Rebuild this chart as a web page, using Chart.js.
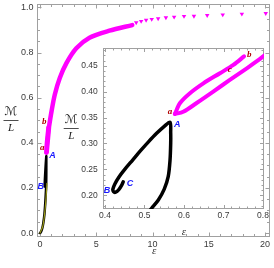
<!DOCTYPE html>
<html>
<head>
<meta charset="utf-8">
<script src="https://cdn.jsdelivr.net/npm/chart.js@4.4.1/dist/chart.umd.min.js"></script>
<style>
html, body { margin: 0; padding: 0; background: #fff; }
#wrap { position: relative; width: 274px; height: 268px; }
#main { position: absolute; left: 0; top: 0; }
#inset { position: absolute; left: 60px; top: 44px; }
</style>
</head>
<body>
<div id="wrap">
  <canvas id="main" width="274" height="268"></canvas>
  <canvas id="inset" width="212" height="196"></canvas>
</div>
<script>
// black branch (origin -> A -> B -> C)
const blackEps = [0, 0.1, 0.2, 0.3, 0.4, 0.46, 0.5, 0.518, 0.535, 0.55, 0.56, 0.5646, 0.5663, 0.5663, 0.5646,
                  0.55, 0.53, 0.51, 0.49, 0.47, 0.45, 0.435, 0.425, 0.42, 0.4215, 0.427, 0.435, 0.442, 0.446];
const blackM   = [0, 0.006, 0.02, 0.045, 0.085, 0.125, 0.158, 0.175, 0.191, 0.212, 0.236, 0.2675, 0.3, 0.32, 0.341,
                  0.333, 0.319, 0.303, 0.286, 0.268, 0.25, 0.235, 0.222, 0.212, 0.207, 0.206, 0.211, 0.219, 0.226];
// thin olive curve near the origin
const oliveEps = [0, 0.25, 0.4, 0.5, 0.57, 0.62];
const oliveM   = [0, 0.03, 0.08, 0.13, 0.18, 0.22];
// magenta branch a -> b
const upEps = [0.577, 0.59, 0.615, 0.649, 0.691, 0.725, 0.752];
const upM   = [0.357, 0.378, 0.397, 0.416, 0.4355, 0.4515, 0.468];
// magenta branch a -> c -> large epsilon
const lowEps = [0.577, 0.598, 0.632, 0.674, 0.716, 0.759, 0.7924, 0.81, 1.03, 1.32, 1.76, 2.35, 3.23, 4.4, 6.17, 8.2];
const lowM   = [0.357, 0.361, 0.378, 0.4, 0.4226, 0.445, 0.463, 0.473, 0.54, 0.614, 0.687, 0.753, 0.819, 0.866, 0.897, 0.922];
// sparse sampled points at the tail
const tailEps = [8.55, 8.99, 9.43, 9.93, 10.5, 11.19, 11.92, 12.8, 13.68, 14.86, 16.24, 17.94, 20.06];
const tailM   = [0.933, 0.939, 0.944, 0.948, 0.951, 0.955, 0.958, 0.961, 0.962, 0.965, 0.968, 0.971, 0.974];

// tick labels
const mainXTicks = [0, 5, 10, 15, 20];
const mainYTicks = [0, 0.2, 0.4, 0.6, 0.8, 1.0];
const insetXTicks = [0.4, 0.5, 0.6, 0.7, 0.8];
const insetYTicks = [0.2, 0.25, 0.3, 0.35, 0.4, 0.45];

// point labels
const mainLetters = ['a', 'A', 'B', 'b'];
const mainLetterEps = [0.2, 1.12, 0.06, 0.38];
const mainLetterM = [0.377, 0.343, 0.207, 0.494];
const insetLetters = ['a', 'A', 'B', 'C', 'b', 'c'];
const insetLetterEps = [0.5646, 0.583, 0.405, 0.463, 0.765, 0.716];
const insetLetterM = [0.361, 0.336, 0.21, 0.222, 0.471, 0.443];

const pts = (xs, ys) => xs.map((x, i) => ({ x: x, y: ys[i] }));

const MAGENTA = '#ff00ff';
const FRAME = '#a0a0a0';
const TEXT = '#3a3a3a';

function range(a, b, step) {
    const out = [];
    for (let v = a; v <= b + 1e-9; v += step) out.push(+v.toFixed(4));
    return out;
}

// Mathematica style frame with inward ticks on all four sides
const framePlugin = {
    id: 'frame',
    beforeDatasetsDraw(chart, args, o) {
        const { ctx, chartArea: a, scales: { x, y } } = chart;
        const L = Math.round(a.left) + 0.5, R = Math.round(a.right) - 0.5;
        const T = Math.round(a.top) + 0.5, B = Math.round(a.bottom) - 0.5;
        ctx.save();
        ctx.strokeStyle = FRAME;
        ctx.lineWidth = 1;
        ctx.strokeRect(L, T, R - L, B - T);
        ctx.beginPath();
        const xt = (vals, len) => vals.forEach(v => {
            const px = Math.round(x.getPixelForValue(v)) + 0.5;
            if (px < L || px > R) return;
            ctx.moveTo(px, B); ctx.lineTo(px, B - len);
            ctx.moveTo(px, T); ctx.lineTo(px, T + len);
        });
        const yt = (vals, len) => vals.forEach(v => {
            const py = Math.round(y.getPixelForValue(v)) + 0.5;
            if (py < T || py > B) return;
            ctx.moveTo(L, py); ctx.lineTo(L + len, py);
            ctx.moveTo(R, py); ctx.lineTo(R - len, py);
        });
        xt(o.xMinor, o.minor); xt(o.xMajor, o.major);
        yt(o.yMinor, o.minor); yt(o.yMajor, o.major);
        ctx.stroke();
        ctx.restore();
    },
    afterDraw(chart, args, o) {
        const { ctx, chartArea: a, scales: { x, y } } = chart;
        ctx.save();
        // axis titles
        ctx.fillStyle = TEXT;
        ctx.textAlign = 'center';
        ctx.textBaseline = 'middle';
        ctx.font = 'italic 11px "Liberation Serif"';
        ctx.fillText('ε', (a.left + a.right) / 2 + o.epsDx, a.bottom + o.epsDy);
        const fx = a.left + o.fracDx, fy = o.fracY;
        ctx.fillStyle = '#222';
        ctx.font = '12px "DejaVu Sans"';
        ctx.fillText('ℳ', fx, fy - 8);
        ctx.font = 'italic 11px "Liberation Serif"';
        ctx.fillText('L', fx, fy + 8);
        ctx.fillRect(fx - 7.5, fy, 15, 0.8);
        // point letters
        o.letters.forEach((t, i) => {
            const upper = t === t.toUpperCase();
            ctx.fillStyle = upper ? '#1a1aff' : '#b00000';
            ctx.font = upper ? 'italic bold 9px "Liberation Sans"' : 'italic bold 9px "Liberation Serif"';
            ctx.fillText(t, x.getPixelForValue(o.lx[i]), y.getPixelForValue(o.ly[i]));
        });
        ctx.restore();
    }
};

function lineSet(data, color, width, order) {
    return {
        data: data, showLine: true, borderColor: color, backgroundColor: color,
        borderWidth: width, pointRadius: 0, tension: 0.3, order: order,
        borderCapStyle: 'round', borderJoinStyle: 'round'
    };
}

function noPad(s) {
    s.paddingTop = 0; s.paddingBottom = 0; s.paddingLeft = 0; s.paddingRight = 0;
}

function axes(xMin, xMax, yMin, yMax, xT, yT, xFmt, yFmt, yW, xH, fs, yPad, xPad) {
    const font = { family: 'Liberation Sans', size: fs };
    return {
        x: {
            type: 'linear', min: xMin, max: xMax,
            grid: { display: false, drawTicks: false }, border: { display: false },
            afterBuildTicks: s => { s.ticks = xT.map(v => ({ value: v })); },
            afterFit: s => { s.height = xH; noPad(s); },
            ticks: { color: TEXT, font: font, padding: xPad, maxRotation: 0, autoSkip: false, callback: xFmt }
        },
        y: {
            type: 'linear', min: yMin, max: yMax,
            grid: { display: false, drawTicks: false }, border: { display: false },
            afterBuildTicks: s => { s.ticks = yT.map(v => ({ value: v })); },
            afterFit: s => { s.width = yW; noPad(s); },
            ticks: { color: TEXT, font: font, padding: yPad, autoSkip: false, callback: yFmt }
        }
    };
}

new Chart(document.getElementById('main'), {
    type: 'scatter',
    data: {
        datasets: [
            lineSet(pts(blackEps, blackM), '#000', 2.5, 2),
            lineSet(pts(oliveEps, oliveM), '#9a9a18', 1.2, 1),
            lineSet(pts(upEps, upM), MAGENTA, 4.5, 3),
            lineSet(pts(lowEps, lowM), MAGENTA, 4.5, 3),
            {
                data: pts(tailEps, tailM), showLine: false, pointStyle: 'triangle', rotation: 180, order: 3,
                pointRadius: 2.6, borderWidth: 0, backgroundColor: MAGENTA, borderColor: MAGENTA
            }
        ]
    },
    options: {
        responsive: false, animation: false, devicePixelRatio: 1,
        layout: { padding: { left: 0, top: 2, right: 2, bottom: 0 } },
        scales: axes(-0.308, 20.44, -0.0154, 1.0154, mainXTicks, mainYTicks,
            v => String(v), v => v.toFixed(1), 36.5, 31.5, 9, 3, 3),
        plugins: {
            legend: { display: false }, tooltip: { enabled: false },
            frame: {
                xMajor: mainXTicks, xMinor: range(0, 20, 1), yMajor: mainYTicks, yMinor: range(0, 1, 0.05),
                major: 4, minor: 2.5, epsDx: 1, epsDy: 14.5, fracDx: -25.5, fracY: 120,
                letters: mainLetters, lx: mainLetterEps, ly: mainLetterM
            }
        }
    },
    plugins: [framePlugin]
});

new Chart(document.getElementById('inset'), {
    type: 'scatter',
    data: {
        datasets: [
            lineSet(pts(blackEps, blackM), '#000', 3.5, 2),
            lineSet(pts(upEps, upM), MAGENTA, 4, 1),
            lineSet(pts(lowEps, lowM), MAGENTA, 4, 1)
        ]
    },
    options: {
        responsive: false, animation: false, devicePixelRatio: 1,
        layout: { padding: { left: 0, top: 3.7, right: 8, bottom: 0 } },
        scales: axes(0.3942, 0.8025, 0.1736, 0.4847, insetXTicks, insetYTicks,
            v => v.toFixed(1), v => v.toFixed(2), 42.7, 31, 8.5, 5, 2),
        plugins: {
            legend: { display: false }, tooltip: { enabled: false },
            frame: {
                xMajor: insetXTicks, xMinor: range(0.4, 0.8, 0.02), yMajor: insetYTicks, yMinor: range(0.18, 0.48, 0.01),
                major: 3.5, minor: 2, epsDx: 0.5, epsDy: 23, fracDx: -31.5, fracY: 84,
                letters: insetLetters, lx: insetLetterEps, ly: insetLetterM
            }
        }
    },
    plugins: [framePlugin]
});
</script>
</body>
</html>
